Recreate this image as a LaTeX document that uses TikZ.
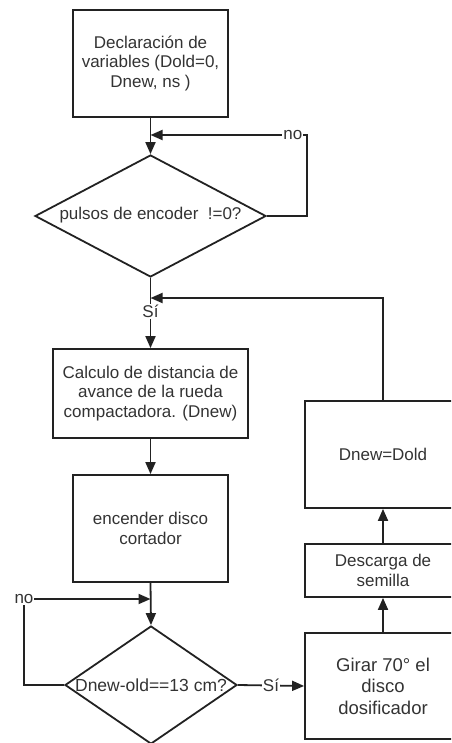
\documentclass[tikz,border=0pt]{standalone}
\usepackage{fontspec}
\setmainfont{Liberation Sans}
\usetikzlibrary{shapes.geometric,arrows.meta}
\definecolor{ln}{HTML}{222222}
\definecolor{tx}{HTML}{333333}
\begin{document}
\begin{tikzpicture}[x=1pt,y=-1pt,
  box/.style={draw=ln,line width=1.8pt,rectangle,inner sep=0pt,align=center,
    font=\fontsize{17}{19.5}\selectfont,text=tx},
  bigbox/.style={box,font=\fontsize{18.5}{21.5}\selectfont},
  dec/.style={draw=ln,line width=1.8pt,diamond,inner sep=0pt},
  dtext/.style={font=\fontsize{17}{19.5}\selectfont,text=tx,inner sep=0pt},
  lbl/.style={font=\fontsize{17}{19}\selectfont,text=tx,fill=white,inner sep=1pt},
  arr/.style={draw=ln,line width=1.8pt,-{Triangle[length=12pt,width=10pt]}}
]
\useasboundingbox (0,0) rectangle (451,743);
\clip (0,0) rectangle (451,743);

\node[box,minimum width=155pt,minimum height=107pt] (b1) at (150.5,63.5)
  {Declaración de\\variables (Dold=0,\\Dnew, ns )};
\node[dec,minimum width=231pt,minimum height=122pt] (d1) at (150.5,216) {};
\node[dtext] (t1) at (150.5,215) {pulsos de encoder\ \ !=0?};
\node[box,minimum width=195pt,minimum height=89pt] (b2) at (150.5,393.5)
  {Calculo de distancia de\\avance de la rueda\\compactadora. (Dnew)};
\node[box,minimum width=155pt,minimum height=107pt] (b3) at (150.5,528.5)
  {encender disco\\cortador};
\node[dec,minimum width=172pt,minimum height=118pt] (d2) at (151,685) {};
\node[dtext,font=\fontsize{17.5}{19.5}\selectfont] (t2) at (151,685) {Dnew-old==13 cm?};
\node[bigbox,minimum width=156pt,minimum height=106pt] (b4) at (383,686)
  {Girar 70° el\\disco\\dosificador};
\node[box,minimum width=156pt,minimum height=53pt] (b5) at (383,570.5)
  {Descarga de\\semilla};
\node[box,minimum width=156pt,minimum height=107pt] (b6) at (383,454.5)
  {Dnew=Dold};

\coordinate (n1) at (307,135);
\coordinate (c2) at (383,298);
\coordinate (n2) at (24,599);

\draw[arr] (b1.south) -- (d1.north);
\draw[arr] (d1.east) -| (n1) -- node[lbl,pos=0.09]{no} (d1.north |- n1);
\draw[arr] (d1.south) -- node[lbl,pos=0.48]{Sí} (b2.north);
\draw[arr] (b6.north) -- (c2) -- (d1.south |- c2);
\draw[arr] (b2.south) -- (b3.north);
\draw[arr] (b3.south) -- (d2.north);
\draw[arr] (d2.west) -| (n2) node[lbl]{no} -- (b3.south |- n2);
\draw[arr] (d2.east) -- node[lbl]{Sí} (b4.west);
\draw[arr] (b4.north) -- (b5.south);
\draw[arr] (b5.north) -- (b6.south);
\end{tikzpicture}
\end{document}
